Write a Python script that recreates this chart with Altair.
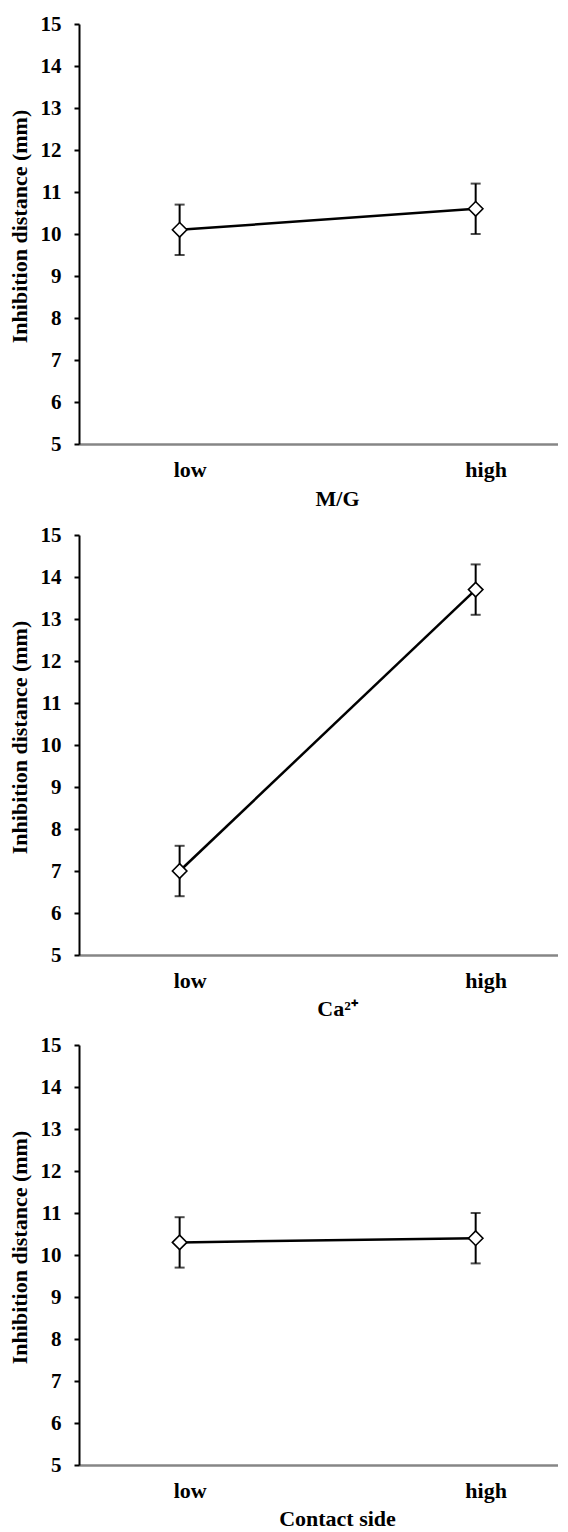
import altair as alt
import pandas as pd

categories = ["low", "high"]

mg_means = [10.1, 10.6]
mg_errs = [0.6, 0.6]

ca_means = [7.0, 13.7]
ca_errs = [0.6, 0.6]

cs_means = [10.3, 10.4]
cs_errs = [0.6, 0.6]

y_ticks = [5, 6, 7, 8, 9, 10, 11, 12, 13, 14, 15]

FONT = "Liberation Serif"


def panel(means, errs, xtitle, title_y):
    df = pd.DataFrame({
        "level": categories,
        "mean": means,
        "lo": [m - e for m, e in zip(means, errs)],
        "hi": [m + e for m, e in zip(means, errs)],
    })
    x_scale = alt.Scale(type="point", padding=0.309, align=0.55)
    x = alt.X(
        "level:N",
        sort=categories,
        scale=x_scale,
        axis=alt.Axis(
            title=xtitle,
            titleX=258,
            titleY=title_y,
        ),
    )
    y_axis = alt.Axis(
        title="Inhibition distance (mm)",
        values=y_ticks,
        format="d",
    )
    y_scale = alt.Scale(domain=[5, 15], nice=False, zero=False)
    xs = alt.X("level:N", sort=categories, scale=x_scale)
    base = alt.Chart(df)
    line = base.mark_line(color="black", strokeWidth=2.5).encode(
        x=x, y=alt.Y("mean:Q", scale=y_scale, axis=y_axis)
    )
    bars = base.mark_rule(color="black", strokeWidth=2).encode(
        x=xs, y="lo:Q", y2="hi:Q"
    )
    cap_hi = base.mark_tick(color="black", thickness=2, size=10).encode(
        x=xs, y="hi:Q"
    )
    cap_lo = base.mark_tick(color="black", thickness=2, size=10).encode(
        x=xs, y="lo:Q"
    )
    pts = base.mark_point(
        shape="diamond", size=210, filled=True, fill="white",
        stroke="black", strokeWidth=1.6, opacity=1
    ).encode(x=xs, y="mean:Q")
    return alt.layer(line, bars, cap_hi, cap_lo, pts).properties(
        width=479, height=420
    )


p1 = panel(mg_means, mg_errs, "M/G", 61)
p2 = panel(ca_means, ca_errs, "Ca²⁺", 60)
p3 = panel(cs_means, cs_errs, "Contact side", 60)

chart = (
    alt.vconcat(p1, p2, p3, spacing=15)
    .properties(padding={"left": 0, "top": 5, "right": 0, "bottom": 0},
                background="white")
    .configure_view(strokeWidth=0, stroke="transparent")
    .configure_axis(
        grid=False,
        labelFont=FONT,
        labelFontWeight="bold",
        labelColor="black",
        titleFont=FONT,
        titleFontWeight="bold",
        titleColor="black",
        titleFontSize=22,
    )
    .configure_axisX(
        ticks=False,
        domainColor="#868686",
        domainWidth=2.5,
        labelAngle=0,
        labelFontSize=22,
        labelBaseline="alphabetic",
        labelPadding=32,
        labelOffset=10,
        titleBaseline="alphabetic",
        titleAlign="center",
    )
    .configure_axisY(
        domainColor="black",
        domainWidth=2,
        tickColor="black",
        tickWidth=2,
        tickSize=5,
        labelFontSize=21,
        labelPadding=13,
        titleX=-53,
        titleY=202,
        titleBaseline="alphabetic",
        titleAngle=270,
        titleAlign="center",
    )
)

chart.save("out.html", embed_options={"renderer": "svg", "actions": False})
